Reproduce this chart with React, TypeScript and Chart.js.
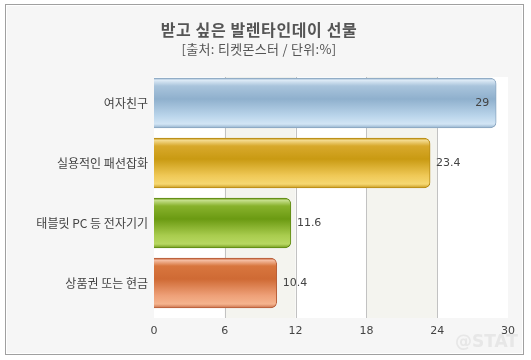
import React, { useEffect, useRef } from "react";
import { Chart, registerables } from "chart.js";

Chart.register(...registerables);

const titleText = "받고 싶은 발렌타인데이 선물";
const subtitleText = "[출처: 티켓몬스터 / 단위:%]";
const categories = ["여자친구", "실용적인 패션잡화", "태블릿 PC 등 전자기기", "상품권 또는 현금"];
const values = [29, 23.4, 11.6, 10.4];
const xTicks = [0, 6, 12, 18, 24, 30];

const gradientStops: [number, string][][] = [
  [[0, "#9fbad3"], [0.05, "#dbe9f5"], [0.16, "#a9c4dc"], [0.42, "#8fb0cd"], [0.75, "#b9d4ea"], [0.92, "#d2e5f5"], [1, "#93b1cc"]],
  [[0, "#c49414"], [0.05, "#f3da8e"], [0.16, "#d8a92c"], [0.42, "#c99a12"], [0.75, "#efc856"], [0.92, "#f6d872"], [1, "#c89a20"]],
  [[0, "#6a9614"], [0.05, "#c5de8a"], [0.16, "#88b22c"], [0.42, "#6b9a12"], [0.75, "#a9cc4e"], [0.92, "#b8d862"], [1, "#739a1c"]],
  [[0, "#c4603a"], [0.05, "#f4bca0"], [0.16, "#d8763e"], [0.42, "#cf6a34"], [0.75, "#eea078"], [0.92, "#f5b48e"], [1, "#c9704a"]],
];

const frame = {
  id: "frame",
  beforeDraw(chart: any) {
    const { ctx, chartArea, scales } = chart;
    ctx.save();
    ctx.fillStyle = "#ffffff";
    ctx.fillRect(0, 0, chart.width, chart.height);
    ctx.fillStyle = "#f6f6f6";
    ctx.fillRect(5.5, 4.5, 518, 350);
    ctx.strokeStyle = "#a0a0a0";
    ctx.lineWidth = 1;
    ctx.strokeRect(5.5, 4.5, 518, 350);
    ctx.strokeStyle = "#ffffff";
    ctx.strokeRect(6.5, 5.5, 516, 348);

    // bands
    const top = chartArea.top + 4;
    const bottom = chartArea.bottom + 5;
    const xs = scales.x;
    for (let i = 0; i < xTicks.length - 1; i++) {
      const x0 = xs.getPixelForValue(xTicks[i]);
      const x1 = xs.getPixelForValue(xTicks[i + 1]);
      ctx.fillStyle = i % 2 === 0 ? "#ffffff" : "#f4f4ef";
      ctx.fillRect(x0, top, x1 - x0, bottom - top);
    }
    ctx.strokeStyle = "#c2c2c2";
    for (let i = 1; i < xTicks.length - 1; i++) {
      const x = Math.round(xs.getPixelForValue(xTicks[i])) + 0.5;
      ctx.beginPath();
      ctx.moveTo(x, top);
      ctx.lineTo(x, bottom);
      ctx.stroke();
    }

    // titles
    ctx.textAlign = "center";
    ctx.textBaseline = "middle";
    ctx.fillStyle = "#555555";
    ctx.font = "bold 16px 'Noto Sans CJK KR', sans-serif";
    try { (ctx as any).letterSpacing = "0.6px"; } catch (e) {}
    ctx.fillText(titleText, 259, 30);
    ctx.font = "13px 'Noto Sans CJK KR', sans-serif";
    try { (ctx as any).letterSpacing = "0.3px"; } catch (e) {}
    ctx.fillText(subtitleText, 259, 49);
    try { (ctx as any).letterSpacing = "0px"; } catch (e) {}
    ctx.restore();
  },
  afterDraw(chart: any) {
    const { ctx } = chart;
    const meta = chart.getDatasetMeta(0);
    ctx.save();
    ctx.font = "11px 'DejaVu Sans', sans-serif";
    ctx.fillStyle = "#444444";
    ctx.textBaseline = "middle";
    meta.data.forEach((bar: any, i: number) => {
      const v = values[i];
      const label = String(v);
      if (v >= 25) {
        ctx.textAlign = "right";
        ctx.fillText(label, bar.x - 7, bar.y);
      } else {
        ctx.textAlign = "left";
        ctx.fillText(label, bar.x + 6, bar.y);
      }
    });
    // watermark
    ctx.font = "bold 17px 'DejaVu Sans', sans-serif";
    ctx.textAlign = "left";
    ctx.fillStyle = "rgba(215,215,215,0.5)";
    ctx.fillText("@STAT", 455, 343);
    ctx.restore();
  },
};

export default function App() {
  const ref = useRef<HTMLCanvasElement | null>(null);
  useEffect(() => {
    if (!ref.current) return;
    const chart = new Chart(ref.current, {
      type: "bar",
      data: {
        labels: categories,
        datasets: [
          {
            data: values,
            backgroundColor: (c: any) => {
              const chart = c.chart;
              const ys = chart.scales && chart.scales.y;
              const stops = gradientStops[c.dataIndex % gradientStops.length];
              if (!ys || !chart.chartArea) return stops[3][1];
              const yc = ys.getPixelForValue(c.dataIndex);
              const g = chart.ctx.createLinearGradient(0, yc - 25, 0, yc + 25);
              stops.forEach(([o, col]) => g.addColorStop(o, col));
              return g;
            },
            borderColor: ["#8aa6c0", "#b88c14", "#5f8a12", "#b85e38"],
            borderWidth: 1,
            borderSkipped: "start",
            borderRadius: 6,
            barThickness: 50,
          },
        ],
      },
      options: {
        indexAxis: "y",
        responsive: false,
        animation: false,
        devicePixelRatio: 1,
        layout: { padding: { left: 0, right: 23, top: 73, bottom: 17 } },
        plugins: { legend: { display: false }, tooltip: { enabled: false }, title: { display: false } },
        scales: {
          x: {
            min: 0,
            max: 30,
            afterFit: (s: any) => { s.height = 30; },
            afterBuildTicks: (s: any) => { s.ticks = xTicks.map((v) => ({ value: v })); },
            grid: { display: false, drawTicks: false },
            border: { display: false },
            ticks: {
              padding: 12,
              color: "#444444",
              font: { size: 11, family: "'DejaVu Sans', sans-serif" },
            },
          },
          y: {
            afterFit: (s: any) => { s.width = 154; },
            grid: { display: false, drawTicks: false },
            border: { display: false },
            ticks: {
              padding: 6,
              color: "#444444",
              font: { size: 12, family: "'Noto Sans CJK KR', sans-serif" },
            },
          },
        },
      },
      plugins: [frame],
    } as any);
    return () => chart.destroy();
  }, []);
  return (
    <div style={{ position: "fixed", left: 0, top: 0, width: 531, height: 360 }}>
      <canvas ref={ref} width={531} height={360} style={{ width: 531, height: 360, display: "block" }} />
    </div>
  );
}
